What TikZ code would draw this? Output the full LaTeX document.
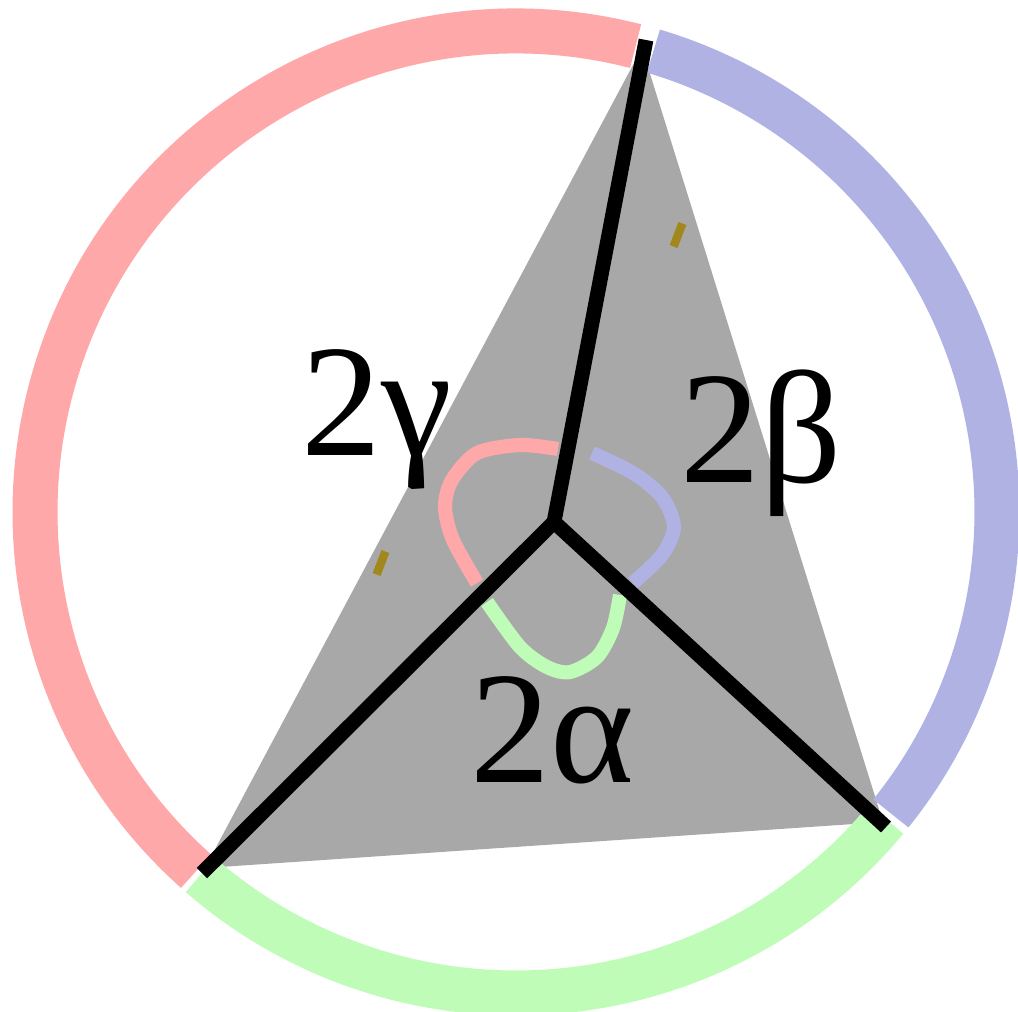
\documentclass[tikz,border=0pt]{standalone}
\usepackage{fontspec}
\setmainfont{Liberation Serif}
\usetikzlibrary{positioning}

\definecolor{arcred}{RGB}{255,168,170}
\definecolor{arcblue}{RGB}{176,178,228}
\definecolor{arcgreen}{RGB}{190,252,184}
\definecolor{tickbrown}{RGB}{162,136,28}
\definecolor{trigrey}{RGB}{168,168,168}

\begin{document}
\begin{tikzpicture}[
  x=0.01cm,y=-0.01cm,
  rim/.style={line width=12.8pt,line cap=butt},
  inner/.style={line width=4pt,line cap=butt},
  spoke/.style={line width=4.2pt,line cap=butt},
  anglelabel/.style={font=\fontsize{45.5}{46}\selectfont,anchor=base west,inner sep=0pt},
  hashmark/.style={fill=tickbrown,minimum width=2.4pt,minimum height=7pt,inner sep=0pt,rotate=-21}
]
\useasboundingbox (0,0) rectangle (1018,1011);

% triangle corners and circumcentre
\coordinate (A) at (642,48);
\coordinate (B) at (205,868);
\coordinate (C) at (883,822);
\coordinate (O) at (554,522);
\coordinate (M) at (516,512);
\fill[trigrey] (A) -- (B) -- (C) -- cycle;

% outer arcs
\draw[rim,arcred] (M) ++(-75.6:481) arc (-75.6:-228.3:481);
\draw[rim,arcblue] (M) ++(-73.4:481) arc (-73.4:38.8:481);
\draw[rim,arcgreen] (M) ++(39.7:481) arc (39.7:131.0:481);

% angle arcs
\draw[inner,arcred] plot[smooth] coordinates {(558,449) (520,445) (477,453) (452,480) (445,507) (453,540) (477,583)};
\draw[inner,arcblue] plot[smooth] coordinates {(592,453) (633,473) (662,497) (674,527) (662,555) (633,583)};
\draw[inner,arcgreen] plot[smooth] coordinates {(620,595) (613,628) (597,657) (570,672) (547,667) (520,647) (487,602)};

% radii
\coordinate (At) at (646,40);
\coordinate (Bt) at (202,873);
\coordinate (Ct) at (886,827);
\foreach \v in {At,Bt,Ct}
  \draw[spoke] (O) -- (\v);

\node[hashmark] (tickb) at (678,235) {};
\node[hashmark] (tickg) at (381,563) {};

\node[anglelabel] (gamma) at (301,455) {2γ};
\node[anglelabel] (beta) at (680,482) {2β};
\node[anglelabel] (alpha) at (470,782) {2α};
\end{tikzpicture}
\end{document}
